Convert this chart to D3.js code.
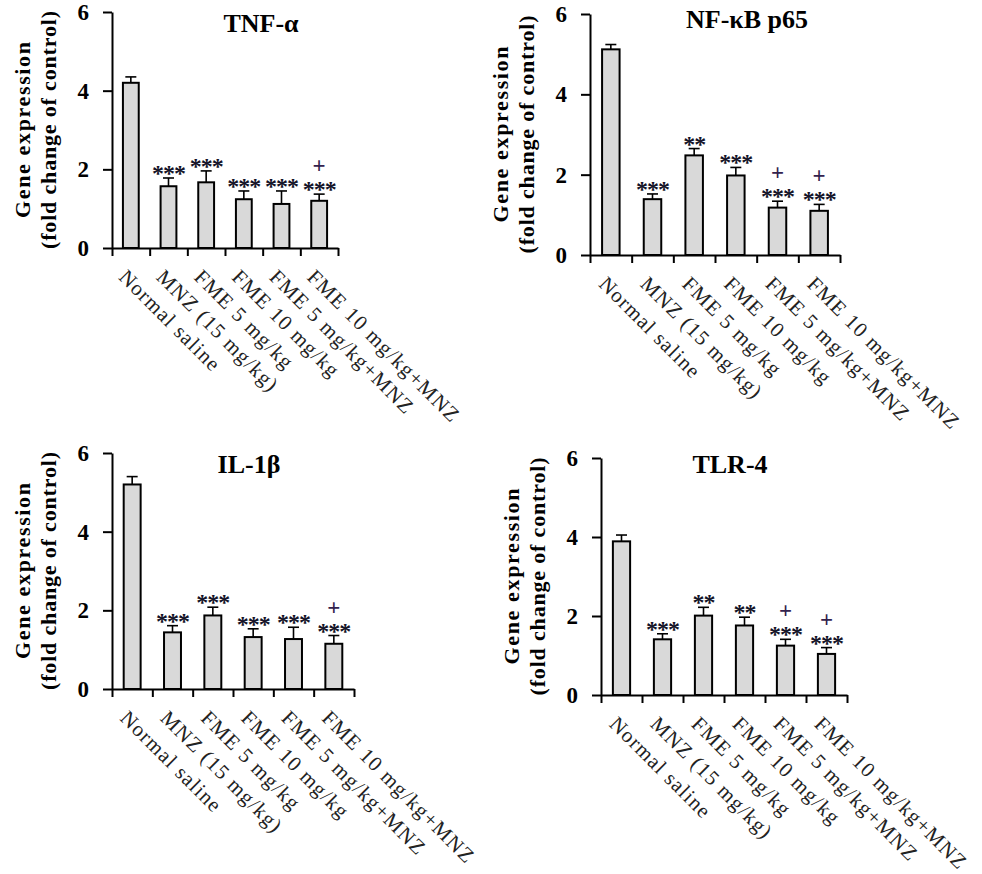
<!DOCTYPE html>
<html>
<head>
<meta charset="utf-8">
<script src="https://cdn.jsdelivr.net/npm/d3@7"></script>
<style>
  body { margin: 0; background: #fff; }
  svg { display: block; }
  text { font-family: "Liberation Serif", "Times New Roman", Times, serif; fill: #000; }
  .axis path, .axis line { stroke: #000; stroke-width: 2px; }
  .axis text { font-family: "Liberation Serif", "Times New Roman", Times, serif; font-size: 23px; font-weight: bold; }
</style>
</head>
<body>
<svg id="chart" width="982" height="874"></svg>
<script>
// groups on the x axis (same for all 4 panels)
const groups = ["Normal saline", "MNZ (15 mg/kg)", "FME 5 mg/kg", "FME 10 mg/kg", "FME 5 mg/kg+MNZ", "FME 10 mg/kg+MNZ"];
const yTicks = [0, 2, 4, 6];

// means and error (SEM)
const tnfMean = [4.2, 1.57, 1.67, 1.24, 1.12, 1.2];
const tnfErr = [0.15, 0.21, 0.29, 0.21, 0.33, 0.17];
const tnfStars = ["", "***", "***", "***", "***", "***"];
const tnfPlus = ["", "", "", "", "", "+"];

const nfkbMean = [5.12, 1.39, 2.48, 1.98, 1.18, 1.1];
const nfkbErr = [0.12, 0.13, 0.17, 0.2, 0.16, 0.16];
const nfkbStars = ["", "***", "**", "***", "***", "***"];
const nfkbPlus = ["", "", "", "", "+", "+"];

const il1Mean = [5.2, 1.44, 1.87, 1.32, 1.27, 1.15];
const il1Err = [0.2, 0.17, 0.21, 0.21, 0.3, 0.21];
const il1Stars = ["", "***", "***", "***", "***", "***"];
const il1Plus = ["", "", "", "", "", "+"];

const tlrMean = [3.89, 1.41, 2.01, 1.76, 1.25, 1.04];
const tlrErr = [0.16, 0.14, 0.21, 0.21, 0.16, 0.16];
const tlrStars = ["", "***", "**", "**", "***", "***"];
const tlrPlus = ["", "", "", "", "+", "+"];

// panel layout (pixel boxes of each plot)
const panels = [
  { title: "TNF-α", mean: tnfMean, err: tnfErr, stars: tnfStars, plus: tnfPlus,
    left: 112, top: 12, bottom: 248, width: 226, titleX: 261, titleY: 32 },
  { title: "NF-κB p65", mean: nfkbMean, err: nfkbErr, stars: nfkbStars, plus: nfkbPlus,
    left: 590, top: 14, bottom: 255, width: 250, titleX: 747, titleY: 28 },
  { title: "IL-1β", mean: il1Mean, err: il1Err, stars: il1Stars, plus: il1Plus,
    left: 112, top: 453, bottom: 689, width: 242, titleX: 249, titleY: 473 },
  { title: "TLR-4", mean: tlrMean, err: tlrErr, stars: tlrStars, plus: tlrPlus,
    left: 601, top: 458, bottom: 695, width: 246, titleX: 730, titleY: 473 }
];

const svg = d3.select('#chart');

panels.forEach(p => {
  let g = svg.append('g');

  let y = d3.scaleLinear().domain([0, 6]).range([p.bottom, p.top]);
  let x = d3.scaleBand().domain(groups).range([p.left, p.left + p.width]).paddingInner(0.58).paddingOuter(0.29);
  let edges = d3.scaleLinear().domain([0, groups.length]).range([p.left, p.left + p.width]);

  let data = groups.map((name, i) => ({ name: name, mean: p.mean[i], err: p.err[i], stars: p.stars[i], plus: p.plus[i] }));

  // bars
  g.selectAll('.bar').data(data).join('rect')
    .attr('class', 'bar')
    .attr('x', d => x(d.name))
    .attr('y', d => y(d.mean))
    .attr('width', x.bandwidth())
    .attr('height', d => y(0) - y(d.mean))
    .attr('fill', '#d9d9d9')
    .attr('stroke', '#000')
    .attr('stroke-width', 2);

  // error bars (upper only)
  let cx = d => x(d.name) + x.bandwidth() / 2;
  g.selectAll('.err').data(data).join('line')
    .attr('x1', cx).attr('x2', cx)
    .attr('y1', d => y(d.mean)).attr('y2', d => y(d.mean + d.err))
    .attr('stroke', '#000').attr('stroke-width', 1.6);
  g.selectAll('.cap').data(data).join('line')
    .attr('x1', d => cx(d) - 5.5).attr('x2', d => cx(d) + 5.5)
    .attr('y1', d => y(d.mean + d.err)).attr('y2', d => y(d.mean + d.err))
    .attr('stroke', '#000').attr('stroke-width', 1.6);

  // significance marks
  g.selectAll('.stars').data(data).join('text')
    .attr('x', cx)
    .attr('y', d => y(d.mean + d.err) + 3)
    .attr('text-anchor', 'middle')
    .style('font-size', '24px')
    .style('font-weight', 'bold')
    .style('letter-spacing', '-1px')
    .style('fill', '#141428')
    .text(d => d.stars);
  g.selectAll('.plus').data(data).join('text')
    .attr('x', cx)
    .attr('y', d => y(d.mean + d.err) - 21)
    .attr('text-anchor', 'middle')
    .style('font-size', '23px')
    .style('font-weight', 'bold')
    .style('fill', '#33224d')
    .text(d => d.plus);

  // axes
  g.append('g')
    .attr('class', 'axis')
    .attr('transform', `translate(${p.left},0)`)
    .call(d3.axisLeft(y).tickValues(yTicks).tickFormat(d3.format('d')).tickSize(9).tickSizeOuter(0).tickPadding(14));

  g.append('g')
    .attr('class', 'axis')
    .attr('transform', `translate(0,${p.bottom})`)
    .call(d3.axisBottom(edges).tickValues(d3.range(groups.length + 1)).tickSize(8).tickSizeOuter(0).tickFormat(''));

  // rotated group labels
  g.selectAll('.xlab').data(data).join('text')
    .attr('transform', d => `translate(${cx(d) - 8},${p.bottom + 25}) rotate(45)`)
    .attr('dy', '0.35em')
    .style('font-size', '21px')
    .style('letter-spacing', '1.2px')
    .style('fill', '#222')
    .text(d => d.name);

  // title
  g.append('text')
    .attr('x', p.titleX)
    .attr('y', p.titleY)
    .attr('text-anchor', 'middle')
    .style('font-size', '26px')
    .style('font-weight', 'bold')
    .text(p.title);

  // y axis title (2 lines)
  let midY = (p.top + p.bottom) / 2;
  g.append('text')
    .attr('transform', `translate(${p.left - 90},${midY}) rotate(-90)`)
    .attr('text-anchor', 'middle')
    .attr('dy', '0.35em')
    .attr('textLength', 176)
    .attr('lengthAdjust', 'spacing')
    .style('font-size', '22px')
    .style('font-weight', 'bold')
    .text('Gene expression');
  g.append('text')
    .attr('transform', `translate(${p.left - 64},${midY}) rotate(-90)`)
    .attr('text-anchor', 'middle')
    .attr('dy', '0.35em')
    .attr('textLength', 238)
    .attr('lengthAdjust', 'spacing')
    .style('font-size', '22px')
    .style('font-weight', 'bold')
    .text('(fold change of control)');
});
</script>
</body>
</html>
